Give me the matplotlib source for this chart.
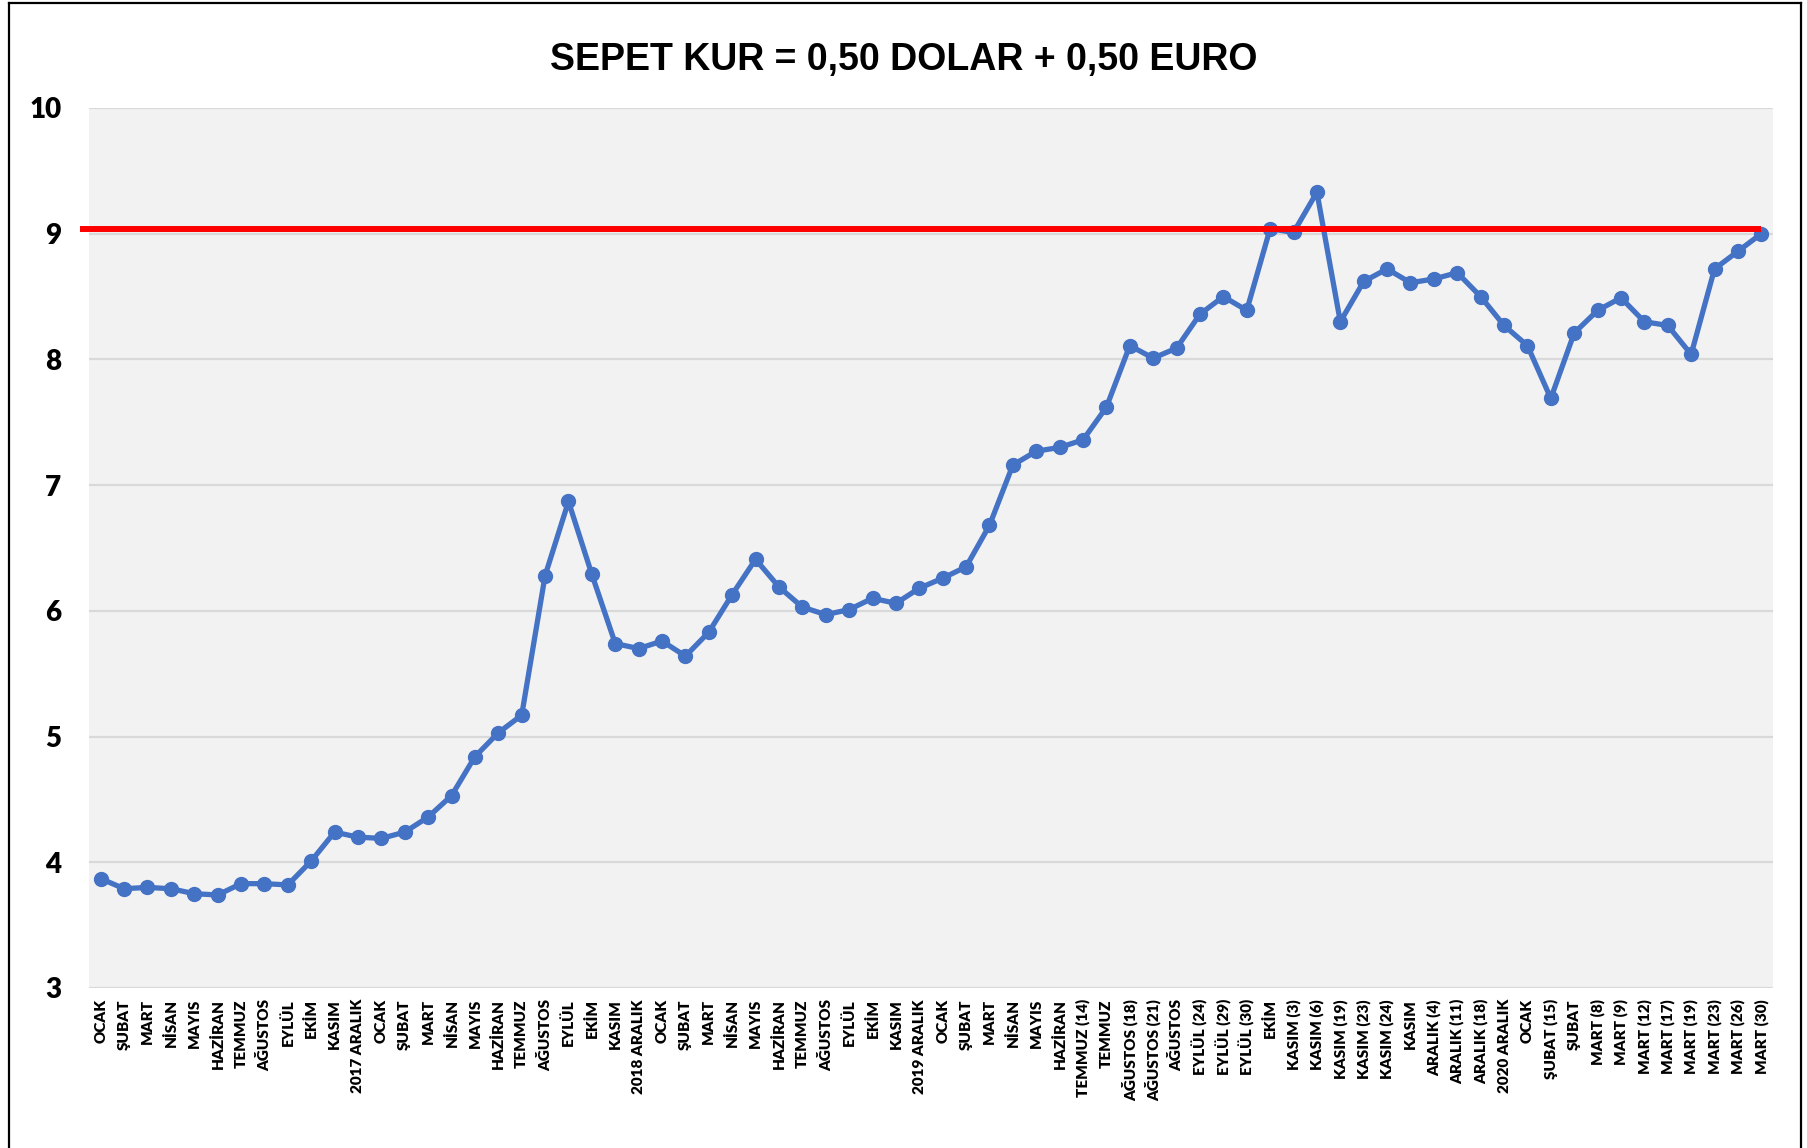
import matplotlib
matplotlib.use("Agg")
import matplotlib.pyplot as plt
from matplotlib.lines import Line2D

plt.rcParams["font.family"] = ["Lato", "DejaVu Sans"]

MONTHS = ["OCAK", "ŞUBAT", "MART", "NİSAN", "MAYIS", "HAZİRAN", "TEMMUZ",
          "AĞUSTOS", "EYLÜL", "EKİM", "KASIM"]

labels = (
    MONTHS + ["2017 ARALIK"]
    + MONTHS + ["2018 ARALIK"]
    + MONTHS + ["2019 ARALIK"]
    + ["OCAK", "ŞUBAT", "MART", "NİSAN", "MAYIS", "HAZİRAN", "TEMMUZ (14)",
       "TEMMUZ", "AĞUSTOS (18)", "AĞUSTOS (21)", "AĞUSTOS", "EYLÜL (24)",
       "EYLÜL (29)", "EYLÜL (30)", "EKİM", "KASIM (3)", "KASIM (6)",
       "KASIM (19)", "KASIM (23)", "KASIM (24)", "KASIM", "ARALIK (4)",
       "ARALIK (11)", "ARALIK (18)", "2020 ARALIK"]
    + ["OCAK", "ŞUBAT (15)", "ŞUBAT", "MART (8)", "MART (9)", "MART (12)",
       "MART (17)", "MART (19)", "MART (23)", "MART (26)", "MART (30)"]
)

sepet = [
    3.87, 3.79, 3.80, 3.79, 3.75, 3.74, 3.83, 3.83, 3.82, 4.01, 4.24, 4.20,
    4.19, 4.24, 4.36, 4.53, 4.84, 5.03, 5.17, 6.28, 6.87, 6.29, 5.74, 5.70,
    5.76, 5.64, 5.83, 6.13, 6.41, 6.19, 6.03, 5.97, 6.01, 6.10, 6.06, 6.18,
    6.26, 6.35, 6.68, 7.16, 7.27, 7.30, 7.36, 7.62, 8.11, 8.01, 8.09, 8.36,
    8.50, 8.39, 9.04, 9.01, 9.33, 8.30, 8.62, 8.72, 8.61, 8.64, 8.69, 8.50,
    8.27, 8.11, 7.69, 8.21, 8.39, 8.49, 8.30, 8.27, 8.04, 8.72, 8.86, 9.00,
]

esik = 9.04  # red reference level

fig = plt.figure(figsize=(18.08, 11.48), dpi=100)
ax = fig.add_axes([89 / 1808, 1 - 988 / 1148, (1773 - 89) / 1808, (988 - 108) / 1148])
ax.set_facecolor("#f2f2f2")

x = list(range(len(sepet)))
ax.plot(x, sepet, color="#4472C4", lw=3.8, marker="o", ms=10,
        solid_joinstyle="round", zorder=3)
ax.plot([-0.9, len(sepet) - 1], [esik, esik], color="#ff0000", lw=4.3,
        solid_capstyle="butt", clip_on=False, zorder=4)

ax.set_xlim(-0.5, len(sepet) - 0.5)
ax.set_ylim(3, 10)
ax.set_yticks(range(3, 11))
ax.yaxis.grid(True, color="#d9d9d9", lw=1.6)
ax.set_axisbelow(True)
for s in ax.spines.values():
    s.set_visible(False)

ax.set_xticks(x)
ax.set_xticklabels(labels, rotation=90, fontsize=11, fontweight="heavy")
ax.tick_params(axis="x", length=0, pad=8)
ax.tick_params(axis="y", length=0, pad=20, labelsize=20)
for t in ax.get_yticklabels():
    t.set_fontweight("heavy")

fig.text(904 / 1808, 1 - 60 / 1148, "SEPET KUR = 0,50 DOLAR + 0,50 EURO",
         ha="center", va="center", fontsize=27, fontweight="bold",
         family="Liberation Sans")

# outer frame of the chart object
for xs, ys in [([9, 9], [0, 1145]), ([9, 1801], [1145, 1145]), ([1801, 1801], [0, 1145])]:
    fig.add_artist(Line2D([v / 1808 for v in xs], [v / 1148 for v in ys],
                          color="black", lw=1.6))

fig.savefig("out.png", dpi=100)
